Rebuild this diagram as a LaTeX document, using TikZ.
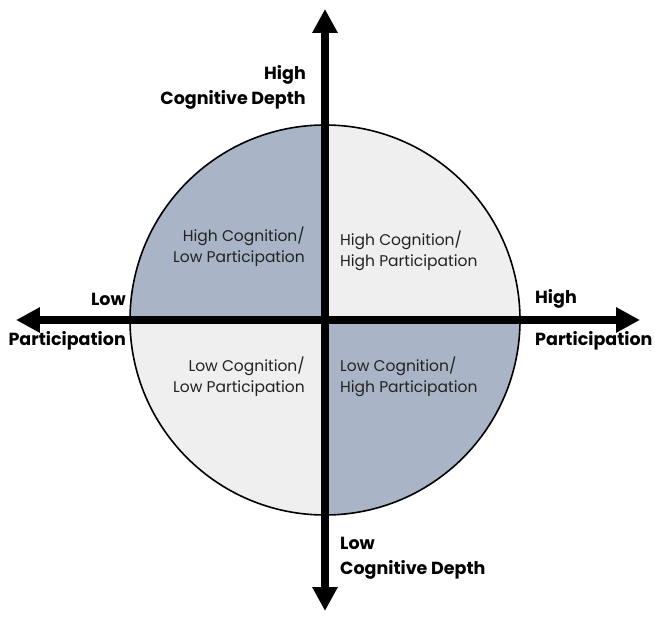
\documentclass[tikz,border=0pt]{standalone}
\usepackage{fontspec}
\setmainfont{Poppins}
\usetikzlibrary{arrows.meta}
\definecolor{quadDark}{HTML}{A9B5C7}
\definecolor{quadLight}{HTML}{EFEFEF}
\definecolor{quadText}{HTML}{222222}
\begin{document}
\begin{tikzpicture}[x=1pt,y=1pt,
  axis/.style={line width=8.5pt,-{Triangle[length=24pt,width=24pt]}},
  axislabel/.style={font=\fontsize{17.5}{20}\selectfont\bfseries,inner sep=0pt,text=black},
  quadlabel/.style={font=\fontsize{15.5}{21}\selectfont,inner sep=0pt,text=quadText},
]
\useasboundingbox (-325,-300) rectangle (330,320);
\fill[white] (-325,-300) rectangle (330,320);
\coordinate (c) at (0,0);
% quadrant sectors
\fill[quadDark]  (c) -- (-195,0) arc (180:90:195) -- cycle;
\fill[quadLight] (c) -- (195,0) arc (0:90:195) -- cycle;
\fill[quadLight] (c) -- (-195,0) arc (180:270:195) -- cycle;
\fill[quadDark]  (c) -- (195,0) arc (0:-90:195) -- cycle;
\draw[line width=1.6pt] (c) circle (195);
% axes
\coordinate (west) at (-309,0);
\coordinate (east) at (315,0);
\coordinate (north) at (0,311);
\coordinate (south) at (0,-291);
\draw[axis] (c) -- (west);
\draw[axis] (c) -- (east);
\draw[axis] (c) -- (north);
\draw[axis] (c) -- (south);
% axis labels
\node[axislabel,anchor=east] (lowp1) at (-199,21) {Low};
\node[axislabel,anchor=east] (lowp2) at (-199,-21) {Participation};
\node[axislabel,anchor=west] (highp1) at (210,21) {High};
\node[axislabel,anchor=west] (highp2) at (210,-21) {Participation};
\node[axislabel,anchor=east] (highc1) at (-19,245) {High};
\node[axislabel,anchor=east] (highc2) at (-19,220) {Cognitive Depth};
\node[axislabel,anchor=west] (lowc1) at (15,-223) {Low};
\node[axislabel,anchor=west] (lowc2) at (15,-250) {Cognitive Depth};
% quadrant labels
\node[quadlabel,anchor=east,align=right] (tl) at (-20,73) {High Cognition/\\Low Participation};
\node[quadlabel,anchor=west,align=left] (tr) at (15,69) {High Cognition/\\High Participation};
\node[quadlabel,anchor=east,align=right] (bl) at (-20,-57) {Low Cognition/\\Low Participation};
\node[quadlabel,anchor=west,align=left] (br) at (15,-57) {Low Cognition/\\High Participation};
\end{tikzpicture}
\end{document}
